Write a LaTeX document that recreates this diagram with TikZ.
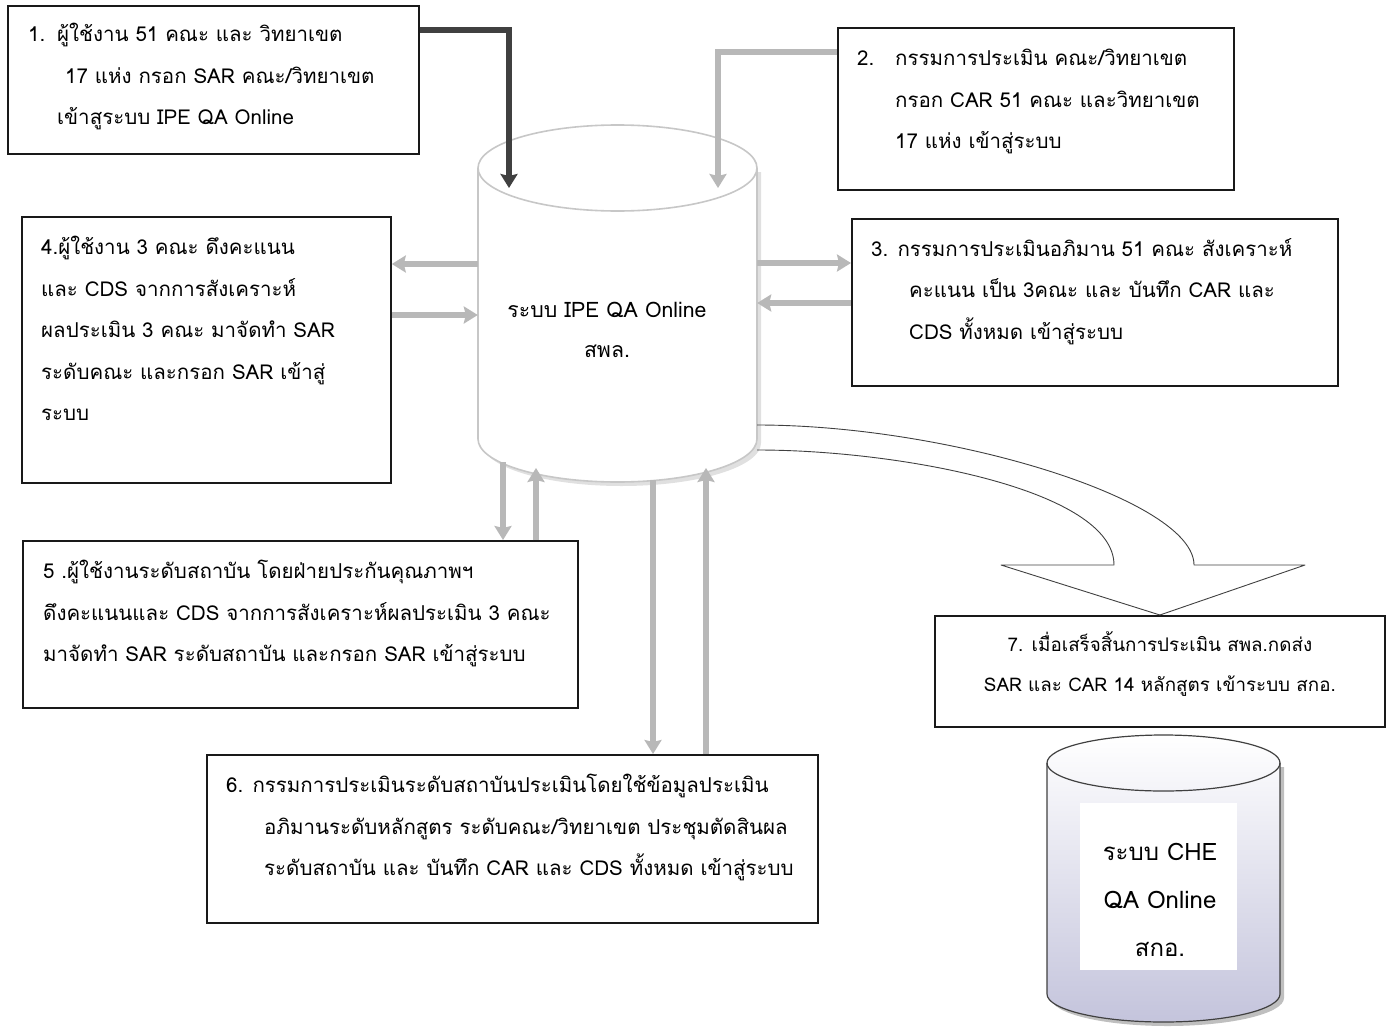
\documentclass[tikz,border=0pt]{standalone}
\usepackage{fontspec}
\setmainfont[Script=Thai]{Loma}
\usetikzlibrary{positioning}
\usetikzlibrary{calc}
\usetikzlibrary{arrows.meta}
\definecolor{lgray}{RGB}{184,184,184}
\definecolor{dgray}{RGB}{64,64,64}
\definecolor{lav}{RGB}{196,196,220}

\begin{document}
\begin{tikzpicture}[x=1pt,y=-1pt,
    box/.style={draw=black!90, line width=1.8pt, anchor=north west, inner sep=0pt},
    txt/.style={align=left, inner sep=0pt, font=\fontsize{20.5}{41.5}\selectfont},
    db/.style={inner sep=0pt},
    link/.style={draw=lgray, line width=5.5pt, -{Stealth[length=14pt,width=17pt,inset=2pt]}},
    darklink/.style={link, draw=dgray, line width=5.5pt},
    bigarrow/.style={draw=dgray, line width=0.9pt, line join=round},
]
\useasboundingbox (0,0) rectangle (1394,1033);

% boxes
\node[box, minimum width=411, minimum height=148] (box1) at (7,5) {};
\node[box, minimum width=396, minimum height=162] (box2) at (837,27) {};
\node[box, minimum width=486, minimum height=167] (box3) at (851,218) {};
\node[box, minimum width=369, minimum height=266] (box4) at (21,216) {};
\node[box, minimum width=555, minimum height=167] (box5) at (22,540) {};
\node[box, minimum width=611, minimum height=168] (box6) at (206,754) {};
\node[box, minimum width=450, minimum height=111] (box7) at (934,615) {};

\node[txt, below right=18pt and 21pt of box1.north west] (text1) {\makebox[29pt][l]{1.}ผู้ใช้งาน 51 คณะ และ วิทยาเขต\\
  \hspace*{37pt}17 แห่ง กรอก SAR คณะ/วิทยาเขต\\
  \hspace*{29pt}เข้าสูระบบ IPE QA Online};
\node[txt, below right=22pt and 20pt of box2.north west] (text2) {\makebox[38pt][l]{2.}กรรมการประเมิน คณะ/วิทยาเขต\\
  \hspace*{38pt}กรอก CAR 51 คณะ และวิทยาเขต\\
  \hspace*{38pt}17 แห่ง เข้าสู่ระบบ};
\node[txt, below right=20pt and 20pt of box3.north west] (text3) {3. กรรมการประเมินอภิมาน 51 คณะ สังเคราะห์\\
  \hspace*{38pt}คะแนน เป็น 3คณะ และ บันทึก CAR และ\\
  \hspace*{38pt}CDS ทั้งหมด เข้าสู่ระบบ};
\node[txt, below right=20pt and 20pt of box4.north west] (text4) {4.ผู้ใช้งาน 3 คณะ ดึงคะแนน\\
  และ CDS จากการสังเคราะห์\\
  ผลประเมิน 3 คณะ มาจัดทำ SAR\\
  ระดับคณะ และกรอก SAR เข้าสู่\\
  ระบบ};
\node[txt, below right=20pt and 21pt of box5.north west] (text5) {5 .ผู้ใช้งานระดับสถาบัน โดยฝ่ายประกันคุณภาพฯ\\
  ดึงคะแนนและ CDS จากการสังเคราะห์ผลประเมิน 3 คณะ\\
  มาจัดทำ SAR ระดับสถาบัน และกรอก SAR เข้าสู่ระบบ};
\node[txt, below right=20pt and 20pt of box6.north west] (text6) {6. กรรมการประเมินระดับสถาบันประเมินโดยใช้ข้อมูลประเมิน\\
  \hspace*{38pt}อภิมานระดับหลักสูตร ระดับคณะ/วิทยาเขต ประชุมตัดสินผล\\
  \hspace*{38pt}ระดับสถาบัน และ บันทึก CAR และ CDS ทั้งหมด เข้าสู่ระบบ};
\node[txt, align=center, font=\fontsize{18.8}{40}\selectfont, below=16pt of box7.north] (text7) {7. เมื่อเสร็จสิ้นการประเมิน สพล.กดส่ง\\
  SAR และ CAR 14 หลักสูตร เข้าระบบ สกอ.};

% databases
\node[db, minimum width=279, minimum height=357] (ipe) at (617.5,303.5) {};
\fill[black!12] (482,172) -- (482,443) arc[start angle=180,end angle=0,x radius=139.5,y radius=43] -- (761,172) -- cycle;
\draw[draw=black!22, line width=1.6pt, fill=white] (478,168) -- (478,439)
  arc[start angle=180,end angle=0,x radius=139.5,y radius=43] -- (757,168)
  arc[start angle=0,end angle=-180,x radius=139.5,y radius=43] -- cycle;
\draw[draw=black!22, line width=1.6pt] (478,168) arc[start angle=180,end angle=0,x radius=139.5,y radius=43];
\node[txt, align=center, font=\fontsize{21.3}{40}\selectfont] (ipetext) at (607,330) {ระบบ IPE QA Online\\สพล.};

\node[db, minimum width=233, minimum height=287] (che) at (1163.5,878.5) {};
\fill[black!25] (1051,767) -- (1051,998) arc[start angle=180,end angle=0,x radius=116.5,y radius=28] -- (1284,767) -- cycle;
\shade[top color=white, middle color=white, bottom color=lav] (1047,763) -- (1047,994)
  arc[start angle=180,end angle=0,x radius=116.5,y radius=28] -- (1280,763)
  arc[start angle=0,end angle=-180,x radius=116.5,y radius=28] -- cycle;
\fill[white] (1080,803) rectangle (1237,970);
\draw[draw=dgray, line width=1.2pt] (1047,763) -- (1047,994)
  arc[start angle=180,end angle=0,x radius=116.5,y radius=28] -- (1280,763)
  arc[start angle=0,end angle=-180,x radius=116.5,y radius=28] -- cycle;
\draw[draw=dgray, line width=1.2pt] (1047,763) arc[start angle=180,end angle=0,x radius=116.5,y radius=28];
\node[txt, align=center, font=\fontsize{24}{48}\selectfont] (chetext) at (1160,900) {ระบบ CHE\\QA Online\\สกอ.};

% ends on the database
\coordinate (in1) at (509,188);
\coordinate (in2) at (718,188);
\coordinate (out5) at (503,462);
\coordinate (in5) at (536,468);
\coordinate (out6) at (653,480);
\coordinate (in6) at (706,468);

\draw[darklink] (box1.east |- 0,30) -| (in1);
\draw[link] (box2.west |- 0,52) -| (in2);
\draw[link] (ipe.east |- 0,263) -- (box3.west |- 0,263);
\draw[link] (box3.west |- 0,303) -- (ipe.east |- 0,303);
\draw[link] (ipe.west |- 0,264) -- (box4.east |- 0,264);
\draw[link] (box4.east |- 0,315) -- (ipe.west |- 0,315);
\draw[link] (out5) -- (out5 |- box5.north);
\draw[link] (in5 |- box5.north) -- (in5);
\draw[link] (out6) -- (out6 |- box6.north);
\draw[link] (in6 |- box6.north) -- (in6);

\draw[bigarrow] (ipe.east |- 0,425) .. controls (950,425) and (1194,500) .. (1194,565)
  -- (1305,565) -- (box7.north) -- (1001,565) -- (1114,565)
  .. controls (1114,490) and (900,450) .. (ipe.east |- 0,450);
\end{tikzpicture}
\end{document}
